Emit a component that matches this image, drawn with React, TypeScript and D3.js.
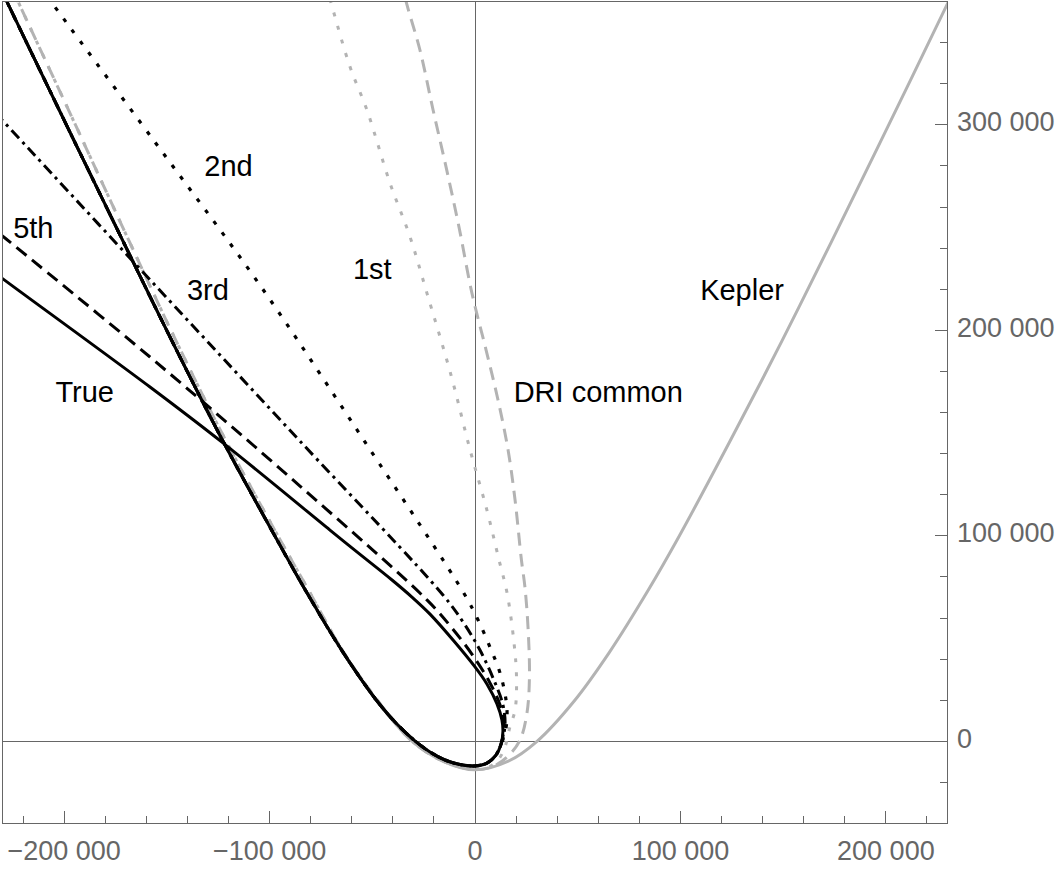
import React from "react";
import * as d3 from "d3";

// ---- data (x, y in metres) ----
const blackIncoming: [number, number][] = [
  [-230500, 365600], [-227800, 359800], [-199100, 300400], [-171400, 243500],
  [-147500, 194800], [-122700, 146100], [-97400, 99900], [-82300, 73100],
  [-64300, 43400], [-47700, 19600], [-38000, 8400], [-29700, 600],
  [-21900, -5200], [-14600, -9100], [-7300, -11300], [0, -12000], [5800, -10600],
  [10200, -6700], [12700, -1300],
];
const trueOutgoing: [number, number][] = [
  [13600, 4900], [13100, 10400], [10700, 18200], [5800, 27900], [0, 36200],
  [-10700, 49300], [-21900, 61900], [-30700, 70200], [-40400, 78500],
  [-58400, 92900], [-70600, 102800], [-122700, 145200], [-158200, 172400],
  [-230300, 225400], [-236100, 229800],
];
const fifthOutgoing: [number, number][] = [
  [14100, 7900], [12200, 17700], [7300, 28400], [-500, 41000], [-11200, 55100],
  [-23400, 68800], [-85200, 124200], [-158200, 187000], [-228800, 244900],
  [-236100, 250800],
];
const thirdOutgoing: [number, number][] = [
  [14600, 7900], [13600, 17700], [9200, 29800], [2400, 44400], [-5800, 58000],
  [-15600, 71200], [-85200, 146100], [-156700, 223000], [-228800, 300800],
  [-236100, 308600],
];
const secondOutgoing: [number, number][] = [
  [14600, 4000], [15600, 11800], [15100, 20100], [12200, 33200], [7300, 45800],
  [1500, 59000], [-4900, 71200], [-53500, 145600], [-104700, 222000],
  [-155800, 291600], [-206900, 360700], [-210300, 365600],
];
const grayIncoming: [number, number][] = [
  [-224900, 365600], [-222500, 360200], [-194700, 300400], [-168400, 243500],
  [-145500, 194800], [-121200, 146100], [-95900, 99900], [-80800, 73100],
  [-64000, 43400], [-47200, 19600], [-30700, 100], [-14600, -10100], [0, -13700],
];
const firstOutgoing: [number, number][] = [
  [6800, -12500], [11700, -8400], [14600, -2800], [17000, 7000], [19500, 15200],
  [20200, 31300], [19000, 47800], [15600, 72200], [11700, 88200], [5800, 112500],
  [-2400, 141800], [-11700, 178300], [-23400, 218100], [-31600, 245400],
  [-41400, 271700], [-52600, 307200], [-60800, 328100], [-69100, 355900],
  [-71100, 363200],
];
const driOutgoing: [number, number][] = [
  [8300, -12400], [15600, -7700], [21900, 600], [25300, 13800], [26500, 31300],
  [25800, 55600], [24300, 75100], [22600, 88200], [19500, 117400], [16100, 141800],
  [11200, 166100], [5400, 190400], [-1500, 218100], [-7800, 250300],
  [-14100, 279500], [-20400, 307200], [-26800, 336400], [-33100, 358300],
  [-34600, 364600],
];
const keplerPoints: [number, number][] = [
  [-230500, 365600], [-227800, 359800], [-199100, 300400], [-171400, 243500],
  [-147500, 194800], [-122700, 146100], [-97400, 99900], [-82300, 73100],
  [-64300, 43400], [-47700, 19600], [-30700, 100], [-14600, -10100], [0, -13900],
  [16200, -9700], [30200, 0], [48200, 19500], [65400, 43300], [84000, 73000],
  [99100, 99300], [124100, 146000], [149300, 194600], [173600, 243300],
  [201500, 300200], [230300, 359600], [235100, 369800],
];

const curveLabels = ["2nd", "5th", "3rd", "1st", "Kepler", "True", "DRI common"];
const labelX = [-120000, -215000, -130000, -50000, 130000, -190000, 60000];
const labelY = [280000, 250000, 220000, 230000, 220000, 170000, 170000];

const xMajorTicks = [-200000, -100000, 0, 100000, 200000];
const xTickLabels = ["\u2212200 000", "\u2212100 000", "0", "100 000", "200 000"];
const yMajorTicks = [0, 100000, 200000, 300000];
const yTickLabels = ["0", "100 000", "200 000", "300 000"];

const GRAY = "#b3b3b3";
const AXIS = "#666666";

export default function App() {
  const W = 1057, H = 871;
  const x = d3.scaleLinear().domain([-230000, 230000]).range([2.5, 947.5]);
  const y = d3.scaleLinear().domain([-40000, 360000]).range([823.5, 1.5]);
  const line = d3
    .line<[number, number]>()
    .x((d) => x(d[0]))
    .y((d) => y(d[1]))
    .curve(d3.curveCatmullRom.alpha(0.5));

  const series = [
    { pts: keplerPoints, color: GRAY, dash: "none", w: 3 },
    { pts: [...grayIncoming, ...firstOutgoing], color: GRAY, dash: "4 10", w: 3 },
    { pts: [...grayIncoming, ...driOutgoing], color: GRAY, dash: "13 8", w: 3 },
    { pts: [...blackIncoming, ...secondOutgoing], color: "#000", dash: "4 10", w: 3.2 },
    { pts: [...blackIncoming, ...thirdOutgoing], color: "#000", dash: "11 5 3 5", w: 3 },
    { pts: [...blackIncoming, ...fifthOutgoing], color: "#000", dash: "13 7", w: 3 },
    { pts: [...blackIncoming, ...trueOutgoing], color: "#000", dash: "none", w: 3 },
  ];

  const minorX = d3.range(-220000, 220001, 20000).filter((v) => v % 100000 !== 0);
  const minorY = d3.range(-20000, 340001, 20000).filter((v) => v % 100000 !== 0);

  const [x0, x1] = x.range();
  const [y0, y1] = y.range();

  return (
    <svg
      width={W}
      height={H}
      style={{ position: "absolute", left: 0, top: 0, background: "#fff" }}
      fontFamily="'Liberation Sans', Arial, sans-serif"
    >
      <defs>
        <clipPath id="plotClip">
          <rect x={x0} y={y1} width={x1 - x0} height={y0 - y1} />
        </clipPath>
      </defs>
      <rect width={W} height={H} fill="#fff" />
      <g stroke={AXIS} strokeWidth={1} shapeRendering="crispEdges">
        <line x1={x(0)} x2={x(0)} y1={y1} y2={y0} />
        <line x1={x0} x2={x1} y1={y(0)} y2={y(0)} />
      </g>
      <g clipPath="url(#plotClip)" fill="none">
        {series.map((s, i) => (
          <path
            key={i}
            d={line(s.pts) || ""}
            stroke={s.color}
            strokeWidth={s.w}
            strokeDasharray={s.dash}
            strokeLinecap="butt"
            strokeLinejoin="round"
          />
        ))}
      </g>
      <rect x={x0} y={y1} width={x1 - x0} height={y0 - y1} fill="none" stroke={AXIS} strokeWidth={1} shapeRendering="crispEdges" />
      <g stroke={AXIS} strokeWidth={1} shapeRendering="crispEdges">
        {xMajorTicks.map((v) => (
          <line key={"xM" + v} x1={x(v)} x2={x(v)} y1={y0} y2={y0 - 12.5} />
        ))}
        {minorX.map((v) => (
          <line key={"xm" + v} x1={x(v)} x2={x(v)} y1={y0} y2={y0 - 7.5} />
        ))}
        {yMajorTicks.map((v) => (
          <line key={"yM" + v} x1={x1} x2={x1 - 12.5} y1={y(v)} y2={y(v)} />
        ))}
        {minorY.map((v) => (
          <line key={"ym" + v} x1={x1} x2={x1 - 7.5} y1={y(v)} y2={y(v)} />
        ))}
      </g>
      <g fill="#666666" fontSize={27}>
        {xMajorTicks.map((v, i) => (
          <text key={"xl" + v} x={x(v)} y={y0 + 36.5} textAnchor="middle">
            {xTickLabels[i]}
          </text>
        ))}
        {yMajorTicks.map((v, i) => (
          <text key={"yl" + v} x={x1 + 9.5} y={y(v) + 6.5} textAnchor="start">
            {yTickLabels[i]}
          </text>
        ))}
      </g>
      <g fill="#000" fontSize={29}>
        {curveLabels.map((t, i) => (
          <text key={t} x={x(labelX[i])} y={y(labelY[i]) + 10.4} textAnchor="middle">
            {t}
          </text>
        ))}
      </g>
    </svg>
  );
}
